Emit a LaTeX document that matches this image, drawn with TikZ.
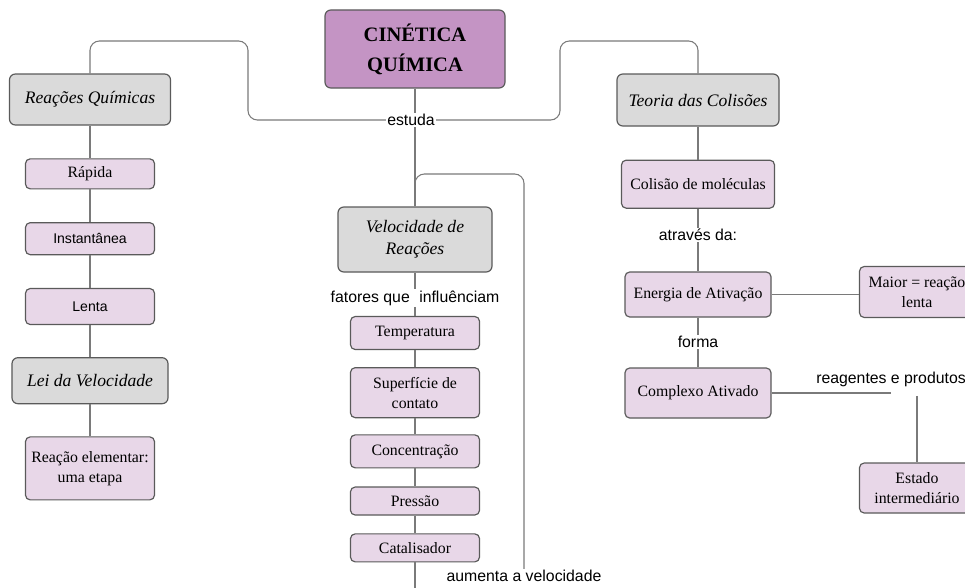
\documentclass[tikz,border=0pt]{standalone}
\usepackage{fontspec}
\setmainfont{Liberation Serif}
\setsansfont{Liberation Sans}
\usetikzlibrary{positioning, calc}
\definecolor{titlepurple}{HTML}{C494C4}
\definecolor{itempurple}{HTML}{E8D7E8}
\definecolor{topicgray}{HTML}{DADADA}
\definecolor{boxedge}{HTML}{5A5A5A}
\definecolor{linkgray}{HTML}{7A7A7A}
\tikzset{
  titlebox/.style={
    draw=boxedge, fill=titlepurple, rounded corners=5pt, line width=1pt,
    minimum width=5.4cm, minimum height=2.34cm, align=center,
    font=\fontsize{17.5}{25.5}\selectfont\bfseries
  },
  topicbox/.style={
    draw=boxedge, fill=topicgray, rounded corners=5pt, line width=1pt,
    align=center, font=\fontsize{15}{18.5}\selectfont\itshape
  },
  itembox/.style={
    draw=boxedge, fill=itempurple, rounded corners=4pt, line width=1pt,
    minimum width=3.87cm, align=center, font=\fontsize{13.5}{17}\selectfont
  },
  itemsans/.style={font=\sffamily\fontsize{12}{14}\selectfont},
  linklabel/.style={inner sep=1pt, font=\sffamily\fontsize{13.5}{16}\selectfont},
  maplink/.style={draw=linkgray, line width=0.9pt, rounded corners=8pt}
}

\begin{document}
\begin{tikzpicture}[x=0.03cm, y=-0.03cm]
\useasboundingbox (0,0) rectangle (965,587);
\clip (0,0) rectangle (965,587);

% centre
\node[titlebox] (cinetica) at (415,49) {CINÉTICA\\QUÍMICA};
\node[linklabel] (estuda) at (411,120) {estuda};
\coordinate (esqcanto) at (248,41);
\coordinate (dircanto) at (560,41);

% left column
\node[topicbox, minimum width=4.83cm, minimum height=1.53cm] (reacoes) at (90,99.5) {Reações Químicas};
\node[itembox, minimum height=0.9cm, below=0.98cm of reacoes] (rapida) {Rápida};
\node[itembox, itemsans, minimum height=0.96cm, below=0.98cm of rapida] (instantanea) {Instantânea};
\node[itembox, itemsans, minimum height=1.08cm, below=0.98cm of instantanea] (lenta) {Lenta};
\node[topicbox, minimum width=4.68cm, minimum height=1.38cm, below=0.96cm of lenta] (lei) {Lei da Velocidade};
\node[itembox, minimum height=1.89cm, below=0.96cm of lei] (elementar) {Reação elementar:\\uma etapa};

% middle column
\node[topicbox, minimum width=4.62cm, minimum height=1.95cm] (velocidade) at (415,239.5) {Velocidade de\\Reações};
\node[linklabel] (fatores) at (415,298) {fatores que\hspace{0.6em}influênciam};
\node[itembox, minimum height=0.99cm] (temperatura) at (415,333) {Temperatura};
\node[itembox, minimum height=1.5cm, below=0.51cm of temperatura] (superficie) {Superfície de\\contato};
\node[itembox, minimum height=0.99cm, below=0.48cm of superficie] (concentracao) {Concentração};
\node[itembox, minimum height=0.84cm, below=0.54cm of concentracao] (pressao) {Pressão};
\node[itembox, minimum height=0.84cm, below=0.53cm of pressao] (catalisador) {Catalisador};
\node[linklabel] (aumenta) at (524,576) {aumenta a velocidade};
\coordinate (laco) at (415,174);
\coordinate (catfim) at (415,595);

% right column
\node[topicbox, minimum width=4.86cm, minimum height=1.56cm] (teoria) at (698,100) {Teoria das Colisões};
\node[itembox, minimum width=4.59cm, minimum height=1.44cm, below=0.99cm of teoria] (colisao) {Colisão de moléculas};
\node[linklabel] (atraves) at (698,235) {através da:};
\node[itembox, minimum width=4.38cm, minimum height=1.35cm] (energia) at (698,294.5) {Energia de Ativação};
\node[linklabel] (forma) at (698,342) {forma};
\node[itembox, minimum width=4.38cm, minimum height=1.5cm] (complexo) at (698,393) {Complexo Ativado};
\node[itembox, minimum width=3.45cm, minimum height=1.53cm] (maior) at (917,292) {Maior = reação\\lenta};
\node[linklabel] (reagentes) at (891,379) {reagentes e produtos};
\node[itembox, minimum width=3.45cm, minimum height=1.5cm] (estado) at (917,488) {Estado\\intermediário};

% links
\draw[maplink] (reacoes.north) |- (esqcanto) |- (estuda.west);
\draw[maplink] (estuda.east) -| (dircanto) -| (teoria.north);
\draw[maplink] (cinetica.south) -- (cinetica.south |- estuda.north);
\draw[maplink] (estuda.south -| velocidade.north) -- (velocidade.north);
\draw[maplink] (reacoes) -- (rapida) -- (instantanea) -- (lenta) -- (lei) -- (elementar);
\draw[maplink] (velocidade.south) -- (fatores.north);
\draw[maplink] (fatores.south) -- (temperatura.north);
\draw[maplink] (temperatura) -- (superficie) -- (concentracao) -- (pressao) -- (catalisador);
\draw[maplink] (catalisador) -- (catfim);
\draw[maplink] (aumenta.north) |- (laco) -- (velocidade.north);
\draw[maplink] (teoria) -- (colisao) -- (atraves) -- (energia) -- (forma) -- (complexo);
\draw[maplink] (energia.east) -- (energia.east -| maior.west);
\draw[maplink] (complexo.east) -- (complexo.east -| reagentes.center);
\draw[maplink] ($(reagentes.south -| estado.north)+(0,8)$) -- (estado.north);
\end{tikzpicture}
\end{document}
